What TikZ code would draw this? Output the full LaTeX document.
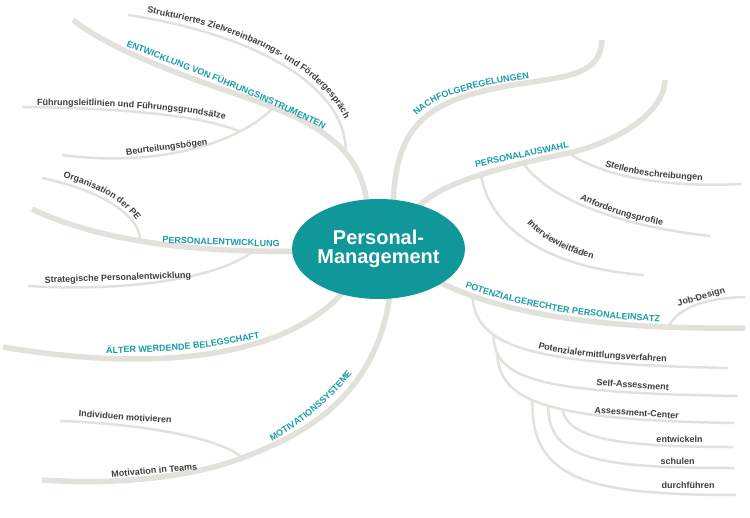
\documentclass[tikz,border=0pt]{standalone}
\usepackage{fontspec}
\setmainfont{Liberation Sans}
\usetikzlibrary{shapes.geometric,decorations.text}

\definecolor{pmteal}{RGB}{15,151,154}
\definecolor{pmcyan}{RGB}{24,157,163}
\definecolor{pmline}{RGB}{226,225,220}
\definecolor{pmgray}{RGB}{62,62,62}

\tikzset{
  branch/.style={pmline, line width=5.5pt},
  twig/.style={pmline, line width=2.5pt},
  topic/.style={text=pmcyan, font=\bfseries\fontsize{9}{10}\selectfont, inner sep=0pt, anchor=base},
  leaf/.style={text=pmgray, font=\bfseries\fontsize{9}{10}\selectfont, inner sep=0pt, anchor=base},
  topicpath/.style={decorate, decoration={text along path, text color=pmcyan,
      text={|\bfseries\fontsize{9}{10}\selectfont|#1}}},
  leafpath/.style={decorate, decoration={text along path, text color=pmgray,
      text={|\bfseries\fontsize{9}{10}\selectfont|#1}}}
}

\begin{document}
\begin{tikzpicture}[x=1pt,y=-1pt]
  \useasboundingbox (0,0) rectangle (750,517);

  % junctions
  \coordinate (ewf1) at (273,108);
  \coordinate (ewf2) at (346,152);
  \coordinate (pe1) at (140,240);
  \coordinate (pe2) at (255,250);
  \coordinate (mot1) at (242,458);
  \coordinate (pa1) at (481,175);
  \coordinate (pa2) at (523,163);
  \coordinate (pa3) at (569,153);
  \coordinate (pp1) at (472.5,296);
  \coordinate (pp2) at (668,327);
  \coordinate (pp3) at (493.5,335);
  \coordinate (pp4) at (497,353);
  \coordinate (ac1) at (532.5,400.2);
  \coordinate (ac2) at (548.2,405.8);
  \coordinate (ac3) at (562.4,409.5);

  % Entwicklung von Fuehrungsinstrumenten
  \draw[branch] (73,20) .. controls (105,45) and (160,68) .. (233,93)
                        .. controls (300,116) and (365,140) .. (367,210);
  \draw[twig] (128,15) .. controls (230,30) and (345,75) .. (ewf2);
  \draw[twig] (62,155) .. controls (160,168) and (240,142) .. (ewf1);
  \draw[twig] (22,107) .. controls (120,108) and (200,115) .. (240,131.5);

  % Nachfolgeregelungen
  \draw[branch] (393,215) .. controls (393,125) and (425,100) .. (513,85)
                          .. controls (570,76) and (600,75) .. (602,40);

  % Personalauswahl
  \draw[branch] (415,212) .. controls (430,185) and (500,167) .. (pa3)
                          .. controls (620,141) and (664,112) .. (665,80);
  \draw[twig] (pa3) .. controls (600,175) and (660,188) .. (741,184);
  \draw[twig] (pa2) .. controls (545,195) and (610,225) .. (710,236);
  \draw[twig] (pa1) .. controls (490,230) and (550,268) .. (644,275);

  % Potenzialgerechter Personaleinsatz
  \draw[branch] (430,277) .. controls (485,308) and (580,330) .. (745,328);
  \draw[twig] (pp2) .. controls (680,305) and (710,298) .. (745,297);
  \draw[twig] (pp1) .. controls (475,350) and (540,364) .. (728,368);
  \draw[twig] (pp3) .. controls (494,380) and (540,393) .. (738,396);
  \draw[twig] (pp4) .. controls (500,400) and (540,420) .. (734,423);
  \draw[twig] (ac3) .. controls (568,437) and (610,447) .. (733,447);
  \draw[twig] (ac2) .. controls (548,460) and (600,468) .. (734,468);
  \draw[twig] (ac1) .. controls (530,480) and (590,495) .. (736,495);

  % Personalentwicklung
  \draw[branch] (32,209) .. controls (90,237) and (180,254) .. (310,251);
  \draw[twig] (42,178) .. controls (100,190) and (140,215) .. (pe1);
  \draw[twig] (28,286) .. controls (130,292) and (220,278) .. (pe2);

  % Aelter werdende Belegschaft
  \draw[branch] (3,347) .. controls (150,372) and (285,360) .. (345,290);

  % Motivationssysteme
  \draw[branch] (42,480) .. controls (130,486) and (200,474) .. (mot1)
                         .. controls (300,436) and (375,400) .. (390,295);
  \draw[twig] (60,421) .. controls (150,424) and (225,440) .. (mot1);

  % centre
  \node[ellipse, fill=pmteal, minimum width=151pt, minimum height=100pt, inner sep=0pt,
        text=white, align=center, font=\bfseries\fontsize{20}{19}\selectfont]
        (pm) at (378.5,249) {Personal-\\Management};

  % labels
  \node[topic, rotate=-2] (l-pe) at (221,245) {PERSONALENTWICKLUNG};
  \node[topic, rotate=12] (l-pa) at (522.5,157.5) {PERSONALAUSWAHL};
  \node[leaf, rotate=7] (l-bb) at (167,150) {Beurteilungsbögen};
  \node[leaf, rotate=2] (l-sp) at (118,280.5) {Strategische Personalentwicklung};
  \node[leaf, rotate=-4] (l-im) at (125,420) {Individuen motivieren};
  \node[leaf, rotate=5] (l-mt) at (154.5,473.5) {Motivation in Teams};
  \node[leaf, rotate=16] (l-jd) at (702,299.5) {Job-Design};
  \node[leaf, rotate=-4] (l-sa) at (632.5,388) {Self-Assessment};
  \node[leaf, rotate=-4] (l-ac) at (636.5,416) {Assessment-Center};
  \node[leaf] (l-en) at (679.5,442) {entwickeln};
  \node[leaf] (l-sc) at (677.5,464.5) {schulen};
  \node[leaf] (l-df) at (688,488.5) {durchführen};

  \path[topicpath={ENTWICKLUNG VON FÜHRUNGSINSTRUMENTEN}]
    (126,46) .. controls (200,76) and (290,108) .. (345,142);
  \path[leafpath={Strukturiertes Zielvereinbarungs- und Fördergespräch}]
    (147,13) .. controls (240,27) and (353,75) .. (353,155);
  \path[leafpath={Führungsleitlinien und Führungsgrundsätze}]
    (37,105) .. controls (120,105) and (195,110) .. (250,125);
  \path[topicpath={NACHFOLGEREGELUNGEN}]
    (417,116) .. controls (432,98) and (470,86) .. (540,77);
  \path[leafpath={Stellenbeschreibungen}]
    (605,166) .. controls (630,175) and (670,182) .. (745,180);
  \path[leafpath={Anforderungsprofile}]
    (580,199) .. controls (605,212) and (640,224) .. (700,231);
  \path[leafpath={Interviewleitfäden}]
    (527,223) .. controls (545,243) and (575,259) .. (640,268);
  \path[topicpath={POTENZIALGERECHTER PERSONALEINSATZ}]
    (465,287) .. controls (520,308) and (590,320) .. (700,324);
  \path[leafpath={Potenzialermittlungsverfahren}]
    (538,348) .. controls (575,358) and (630,361) .. (728,363.5);
  \path[leafpath={Organisation der PE}]
    (63,178) .. controls (110,190) and (146,215) .. (146,250);
  \path[topicpath={ÄLTER WERDENDE BELEGSCHAFT}]
    (106,353) .. controls (160,353.5) and (220,348) .. (268,336);
  \path[topicpath={MOTIVATIONSSYSTEME}]
    (272,441) .. controls (300,425) and (335,400) .. (360,362);
\end{tikzpicture}
\end{document}
